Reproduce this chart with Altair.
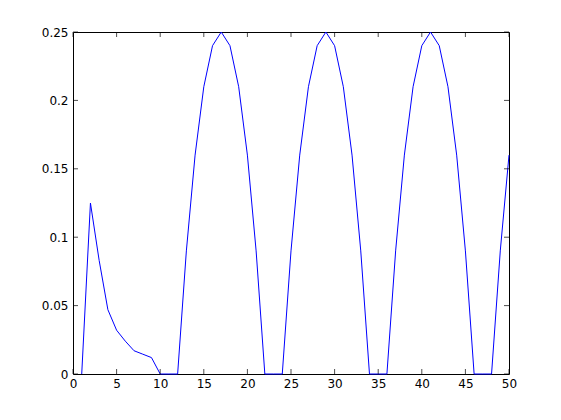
import altair as alt
import pandas as pd

x_vals = list(range(1, 51))
y_vals = [
    0, 0.125, 0.083, 0.047, 0.032, 0.024, 0.017, 0.0145, 0.012, 0,
    0, 0, 0.09, 0.16, 0.21, 0.24, 0.25, 0.24, 0.21, 0.16,
    0.09, 0, 0, 0, 0.09, 0.16, 0.21, 0.24, 0.25, 0.24,
    0.21, 0.16, 0.09, 0, 0, 0, 0.09, 0.16, 0.21, 0.24,
    0.25, 0.24, 0.21, 0.16, 0.09, 0, 0, 0, 0.09, 0.16,
]
x_ticks = [0, 5, 10, 15, 20, 25, 30, 35, 40, 45, 50]
y_ticks = [0, 0.05, 0.1, 0.15, 0.2, 0.25]

W, H = 436, 342
FONT = "DejaVu Sans"

df = pd.DataFrame({"x": x_vals, "y": y_vals})
dfx = pd.DataFrame({"x": x_ticks})
dfy = pd.DataFrame({"y": y_ticks})

xscale = alt.Scale(domain=[0, 50], nice=False, zero=False)
yscale = alt.Scale(domain=[0, 0.25], nice=False, zero=False)

xaxis = alt.Axis(values=x_ticks, tickSize=0, labelPadding=4, grid=False,
                 domain=False, labelFont=FONT, labelFontSize=12,
                 labelColor="black", format="~g", labelFlush=False)
yaxis = alt.Axis(values=y_ticks, tickSize=0, labelPadding=5, grid=False,
                 domain=False, labelFont=FONT, labelFontSize=12,
                 labelColor="black", format="~g", labelFlush=False)

X = alt.X("x:Q", scale=xscale, title=None, axis=xaxis)
Y = alt.Y("y:Q", scale=yscale, title=None, axis=yaxis)

line = alt.Chart(df).mark_line(color="#0000ff", strokeWidth=1).encode(x=X, y=Y)

TL = 5
xt_bottom = alt.Chart(dfx).mark_tick(orient="vertical", color="black", size=TL, thickness=1).encode(
    x=X, y=alt.value(H - TL / 2))
xt_top = alt.Chart(dfx).mark_tick(orient="vertical", color="black", size=TL, thickness=1).encode(
    x=X, y=alt.value(TL / 2))
yt_left = alt.Chart(dfy).mark_tick(orient="horizontal", color="black", size=TL, thickness=1).encode(
    y=Y, x=alt.value(TL / 2))
yt_right = alt.Chart(dfy).mark_tick(orient="horizontal", color="black", size=TL, thickness=1).encode(
    y=Y, x=alt.value(W - TL / 2))

chart = alt.layer(line, xt_bottom, xt_top, yt_left, yt_right).properties(
    width=W, height=H,
    autosize=alt.AutoSizeParams(type="none"),
    padding={"left": 65, "top": 24, "right": 44, "bottom": 38},
    background="white",
).configure_view(stroke="black", strokeWidth=1)

chart.save("out.html", embed_options={"renderer": "svg", "actions": False})
